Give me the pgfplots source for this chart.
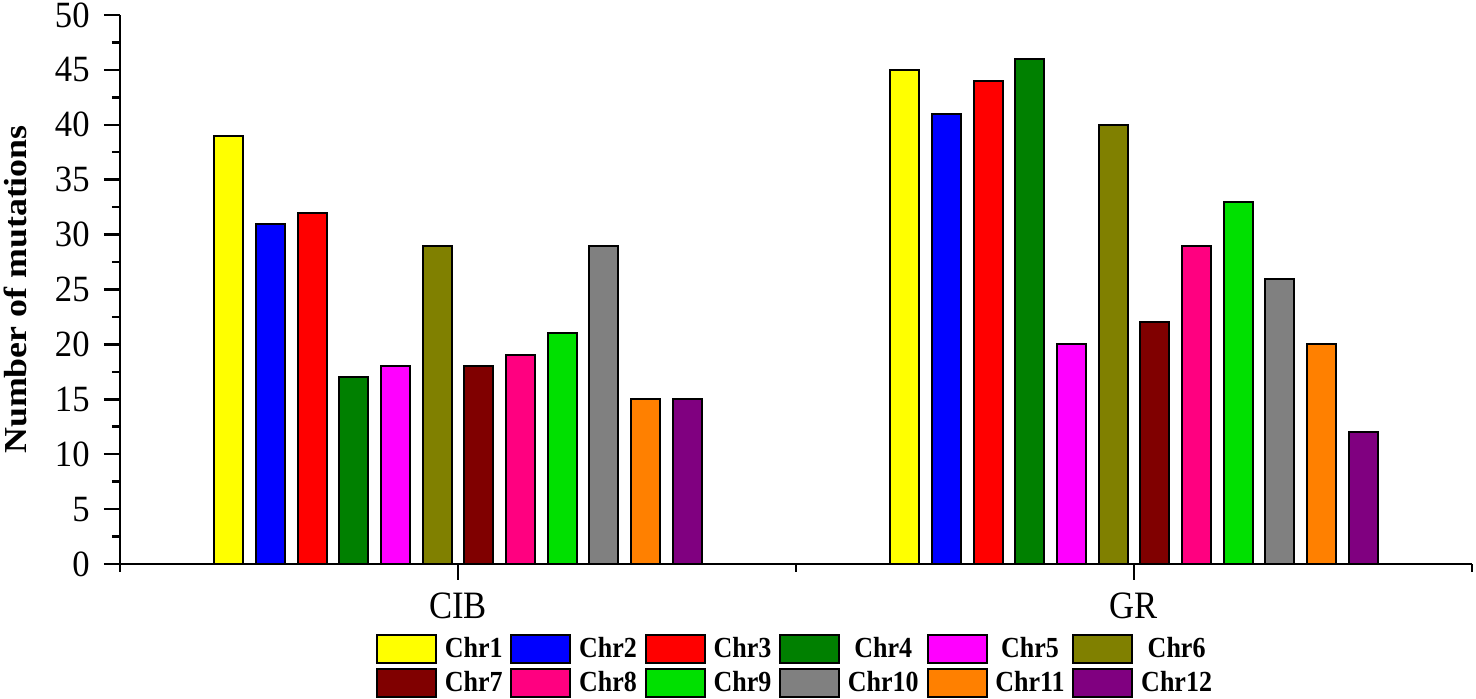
\documentclass[border=0pt]{standalone}
\usepackage{fontspec}
\setmainfont{Liberation Serif}
\usepackage{graphicx}
\usepackage{pgfplots}
\pgfplotsset{compat=1.18}
\definecolor{c1}{HTML}{FFFF00}
\definecolor{c2}{HTML}{0000FF}
\definecolor{c3}{HTML}{FF0000}
\definecolor{c4}{HTML}{008000}
\definecolor{c5}{HTML}{FF00FF}
\definecolor{c6}{HTML}{808000}
\definecolor{c7}{HTML}{800000}
\definecolor{c8}{HTML}{FF0080}
\definecolor{c9}{HTML}{00E000}
\definecolor{c10}{HTML}{808080}
\definecolor{c11}{HTML}{FF8000}
\definecolor{c12}{HTML}{800080}
\newcommand{\st}[1]{\scalebox{1}[1.12]{#1}}
\begin{document}
\begin{tikzpicture}
\useasboundingbox (-60pt,-67.5pt) rectangle (678pt,282pt);
\begin{axis}[
  at={(0,0)}, anchor=south west,
  width=676pt, height=274.5pt, scale only axis,
  ybar=6.32pt, bar width=14.5pt,
  xmin=-0.5, xmax=1.5, ymin=0, ymax=50,
  axis lines*=left,
  axis line style={line width=1.25pt,-},
  xtick={0,1}, xticklabels={CIB,GR},
  minor xtick={-0.5,0.5,1.5},
  ytick={0,5,...,50}, minor y tick num=1,
  tick align=outside,
  major tick length=8pt, minor tick length=4pt,
  every tick/.style={black,line width=1.25pt},
  /pgf/number format/assume math mode=true,
  ticklabel style={font=\fontsize{17.3}{20}\selectfont},
  yticklabel style={anchor=east,inner sep=0pt,xshift=-7pt,yscale=1.07},
  xticklabel style={anchor=north,inner sep=0pt,yshift=-6pt,yscale=1.12},
  every axis y label/.style={at={(axis description cs:-0.06879,0.5)}, rotate=90, anchor=base},
  ylabel={\scalebox{1.12}[1]{\bfseries\fontsize{16}{19}\selectfont Number of mutations}},
  legend image code/.code={\draw[#1,line width=1pt] (0pt,-2.5pt) rectangle (29.5pt,11.5pt);},
  legend columns=6,
  legend cell align=center,
  legend style={at={(0.18935,-0.1275)}, anchor=north west, draw=none, inner sep=0pt, outer sep=0pt,
    column sep=3.9pt, row sep=2pt, font=\bfseries\fontsize{13}{15}\selectfont,
    nodes={inner sep=0pt}, cells={anchor=base}},
  every axis plot/.append style={draw=black, line width=1pt},
]
\addplot[fill=c1] coordinates {(0,39) (1,45)};
\addplot[fill=c2] coordinates {(0,31) (1,41)};
\addplot[fill=c3] coordinates {(0,32) (1,44)};
\addplot[fill=c4] coordinates {(0,17) (1,46)};
\addplot[fill=c5] coordinates {(0,18) (1,20)};
\addplot[fill=c6] coordinates {(0,29) (1,40)};
\addplot[fill=c7] coordinates {(0,18) (1,22)};
\addplot[fill=c8] coordinates {(0,19) (1,29)};
\addplot[fill=c9] coordinates {(0,21) (1,33)};
\addplot[fill=c10] coordinates {(0,29) (1,26)};
\addplot[fill=c11] coordinates {(0,15) (1,20)};
\addplot[fill=c12] coordinates {(0,15) (1,12)};
\legend{\st{Chr1},\st{Chr2},\st{Chr3},\st{Chr4},\st{Chr5},\st{Chr6},\st{Chr7},\st{Chr8},\st{Chr9},\st{Chr10},\st{Chr11},\st{Chr12}}
\end{axis}
\end{tikzpicture}
\end{document}
